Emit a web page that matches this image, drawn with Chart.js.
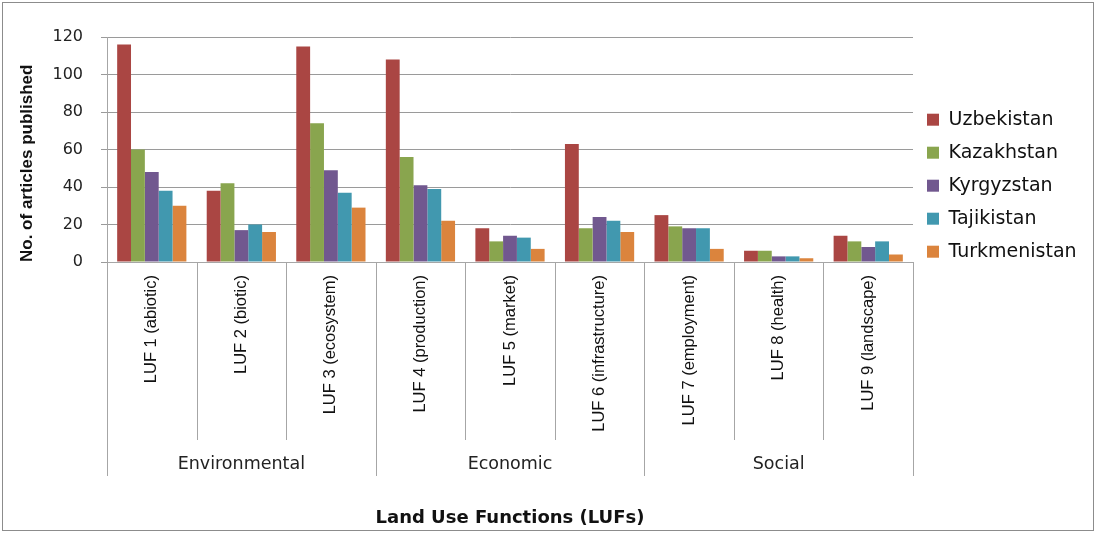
<!DOCTYPE html>
<html>
<head>
<meta charset="utf-8">
<script src="https://cdn.jsdelivr.net/npm/chart.js@4.4.1/dist/chart.umd.min.js"></script>
<style>
html,body{margin:0;padding:0;background:#fff;}
#wrap{position:relative;width:1096px;height:534px;}
</style>
</head>
<body>
<div id="wrap"><canvas id="c" width="1096" height="534"></canvas></div>
<script>
// ---- data ----
const categories = ['LUF 1 (abiotic)', 'LUF 2 (biotic)', 'LUF 3 (ecosystem)', 'LUF 4 (production)', 'LUF 5 (market)', 'LUF 6 (infrastructure)', 'LUF 7 (employment)', 'LUF 8 (health)', 'LUF 9 (landscape)'];
const groups = ['Environmental', 'Economic', 'Social'];
const groupSizes = [3, 3, 3];
const seriesNames = ['Uzbekistan', 'Kazakhstan', 'Kyrgyzstan', 'Tajikistan', 'Turkmenistan'];
const uzbekistan   = [116, 38, 115, 108, 18, 63, 25, 6, 14];
const kazakhstan   = [60, 42, 74, 56, 11, 18, 19, 6, 11];
const kyrgyzstan   = [48, 17, 49, 41, 14, 24, 18, 3, 8];
const tajikistan   = [38, 20, 37, 39, 13, 22, 18, 3, 11];
const turkmenistan = [30, 16, 29, 22, 7, 16, 7, 2, 4];
const yTickValues  = [0, 20, 40, 60, 80, 100, 120];
const seriesColors = ['#AA4643', '#89A54E', '#71588F', '#4198AF', '#DB843D'];
const yTitle = 'No. of articles published';
const xTitle = 'Land Use Functions (LUFs)';

const seriesValues = [uzbekistan, kazakhstan, kyrgyzstan, tajikistan, turkmenistan];

const LEGEND_W = 183;

const decorPlugin = {
  id: 'decor',
  beforeLayout(chart) {
    const lg = chart.legend;
    if (lg && !lg._patched) {
      const orig = lg.fit;
      lg.fit = function () { orig.call(this); this.width = LEGEND_W; };
      lg._patched = true;
    }
  },
  beforeDraw(chart) {
    const ctx = chart.ctx;
    ctx.save();
    ctx.fillStyle = '#ffffff';
    ctx.fillRect(0, 0, chart.width, chart.height);
    ctx.restore();
  },
  afterDraw(chart) {
    const ctx = chart.ctx;
    const x = chart.scales.x;
    const x2 = chart.scales.x2;
    const n = categories.length;
    const step = (x.right - x.left) / n;
    const edges = new Set([0]);
    let acc = 0;
    groupSizes.forEach(g => { acc += g; edges.add(acc); });
    ctx.save();
    ctx.strokeStyle = '#a6a6a6';
    ctx.lineWidth = 1;
    for (let i = 0; i <= n; i++) {
      const px = Math.round(x.left + i * step) + 0.5;
      const isGroup = edges.has(i);
      ctx.beginPath();
      ctx.moveTo(px, x.top);
      ctx.lineTo(px, isGroup ? x2.top + 36 : x.bottom);
      ctx.stroke();
    }
    // outer frame
    ctx.strokeStyle = '#8c8c8c';
    ctx.strokeRect(2.5, 2.5, 1091, 528);
    ctx.restore();
  }
};

const datasets = seriesNames.map((name, i) => ({
  label: name,
  data: seriesValues[i],
  backgroundColor: seriesColors[i],
  borderWidth: 0,
  categoryPercentage: 0.773,
  barPercentage: 1.0
}));

new Chart(document.getElementById('c'), {
  type: 'bar',
  data: { labels: categories, datasets },
  plugins: [decorPlugin],
  options: {
    responsive: false,
    animation: false,
    devicePixelRatio: 1,
    layout: { padding: { top: 37, right: 0, bottom: 0, left: 0 } },
    plugins: {
      tooltip: { enabled: false },
      legend: {
        position: 'right',
        align: 'start',
        title: { display: true, text: ' ', font: { size: 1 }, padding: { top: 58, bottom: 0 } },
        labels: {
          boxWidth: 12,
          boxHeight: 12,
          padding: 14,
          color: '#111',
          font: { family: 'DejaVu Sans', size: 19 }
        }
      }
    },
    scales: {
      x: {
        type: 'category',
        offset: true,
        grid: { display: false, drawTicks: false },
        border: { display: true, color: '#a6a6a6' },
        ticks: {
          autoSkip: false,
          minRotation: 90,
          maxRotation: 90,
          padding: 13,
          color: '#111',
          font: { family: 'Liberation Sans', size: 16.5 }
        },
        afterFit(s) { s.height = 178; }
      },
      x2: {
        type: 'category',
        labels: groups,
        position: 'bottom',
        offset: true,
        grid: { display: false, drawTicks: false },
        border: { display: false },
        ticks: {
          autoSkip: false,
          maxRotation: 0,
          padding: 14,
          color: '#222',
          font: { family: 'DejaVu Sans', size: 17.5 }
        },
        title: {
          display: true,
          text: xTitle,
          color: '#111',
          padding: { top: 6, bottom: 5 },
          font: { family: 'DejaVu Sans', size: 18, weight: 'bold' }
        },
        afterFit(s) { s.height = 94; }
      },
      y: {
        min: 0,
        max: 120,
        afterBuildTicks(s) { s.ticks = yTickValues.map(v => ({ value: v })); },
        grid: { color: '#9a9a9a', lineWidth: 1, tickLength: 6, drawTicks: true },
        border: { display: true, color: '#a6a6a6' },
        ticks: {
          padding: 18,
          color: '#222',
          font: { family: 'DejaVu Sans', size: 16 }
        },
        title: {
          display: true,
          text: yTitle,
          align: 'start',
          color: '#111',
          padding: { top: 17, bottom: 0 },
          font: { family: 'Liberation Sans', size: 17, weight: 'bold' }
        },
        afterFit(s) { s.width = 107; }
      }
    }
  }
});
</script>
</body>
</html>
